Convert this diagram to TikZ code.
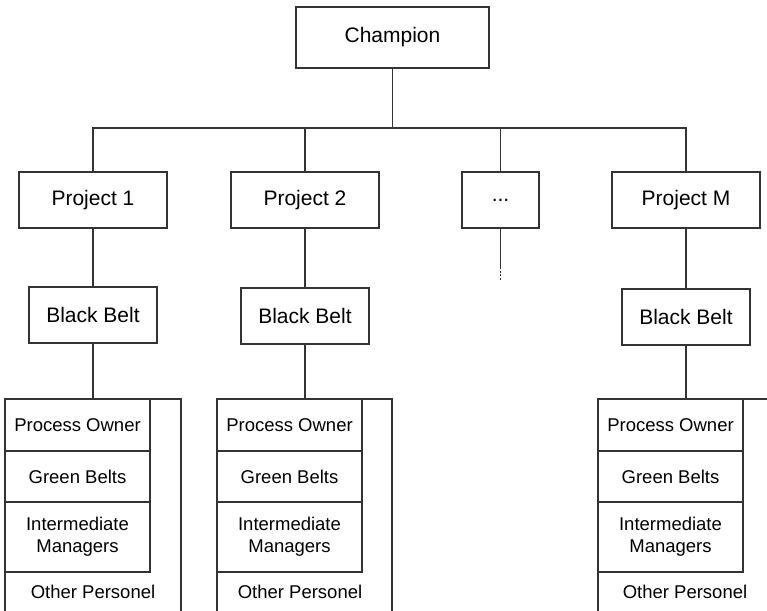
\documentclass[tikz,border=0pt]{standalone}
\usepackage{fontspec}
\setmainfont{Liberation Sans}
\usetikzlibrary{positioning}

\begin{document}
\begin{tikzpicture}[
  x=1pt, y=-1pt,
  every node/.style={draw=black!80, line width=1.1pt, align=center, inner sep=0pt, outer sep=0pt},
  bigbox/.style={font=\fontsize{21}{25}\selectfont, minimum height=56},
  teamcell/.style={font=\fontsize{18.5}{22}\selectfont, minimum width=145},
  teamframe/.style={minimum height=240, anchor=north west},
  plain/.style={draw=none, font=\fontsize{18.5}{22}\selectfont},
  link/.style={draw=black!80, line width=1.1pt}
]
  \useasboundingbox (0,0) rectangle (767,610);
  \clip (0,0) rectangle (767,610);

  % top and projects
  \node[bigbox, minimum width=193, minimum height=61] (champ) at (392.5,37.5) {Champion};
  \node[bigbox, minimum width=148] (proj1) at (93,200) {Project 1};
  \node[bigbox, minimum width=148] (proj2) at (305,200) {Project 2};
  \node[bigbox, minimum width=77] (projdots) at (500.5,200) {...};
  \node[bigbox, minimum width=148] (projM) at (686,200) {Project M};

  \node[bigbox, minimum width=128, below=59pt of proj1] (bb1) {Black Belt};
  \node[bigbox, minimum width=128, below=60pt of proj2] (bb2) {Black Belt};
  \node[bigbox, minimum width=128, below=61pt of projM] (bbM) {Black Belt};

  % teams
  \node[teamframe, minimum width=176] (team1) at (5,399) {};
  \node[teamcell, minimum height=52, anchor=north west] (po1) at (5,399) {Process Owner};
  \node[teamcell, minimum height=51, below=0pt of po1] (gb1) {Green Belts};
  \node[teamcell, minimum height=70, below=0pt of gb1] (im1) {Intermediate\\Managers};
  \node[plain] (op1) at (93,592) {Other Personel};

  \node[teamframe, minimum width=175] (team2) at (217,399) {};
  \node[teamcell, minimum height=52, anchor=north west] (po2) at (217,399) {Process Owner};
  \node[teamcell, minimum height=51, below=0pt of po2] (gb2) {Green Belts};
  \node[teamcell, minimum height=70, below=0pt of gb2] (im2) {Intermediate\\Managers};
  \node[plain] (op2) at (300,592) {Other Personel};

  \node[teamframe, minimum width=174] (teamM) at (598,399) {};
  \node[teamcell, minimum height=52, anchor=north west] (poM) at (598,399) {Process Owner};
  \node[teamcell, minimum height=51, below=0pt of poM] (gbM) {Green Belts};
  \node[teamcell, minimum height=70, below=0pt of gbM] (imM) {Intermediate\\Managers};
  \node[plain] (opM) at (685,592) {Other Personel};

  % connectors
  \draw[link] (champ.south) -- ++(0,60) coordinate (bus);
  \draw[link] (proj1.north) |- (bus) -| (projM.north);
  \draw[link] (proj2.north) -- (proj2.north |- bus);
  \draw[link] (projdots.north) -- (projdots.north |- bus);
  \draw[link] (proj1) -- (bb1);
  \draw[link] (proj2) -- (bb2);
  \draw[link] (projM) -- (bbM);
  \draw[link] (projdots.south) -- ++(0,39) coordinate (dd);
  \draw[link, dash pattern=on 2pt off 1.5pt] (dd) -- ++(0,14);
  \draw[link] (bb1.south) -- (bb1.south |- team1.north);
  \draw[link] (bb2.south) -- (bb2.south |- team2.north);
  \draw[link] (bbM.south) -- (bbM.south |- teamM.north);
\end{tikzpicture}
\end{document}
